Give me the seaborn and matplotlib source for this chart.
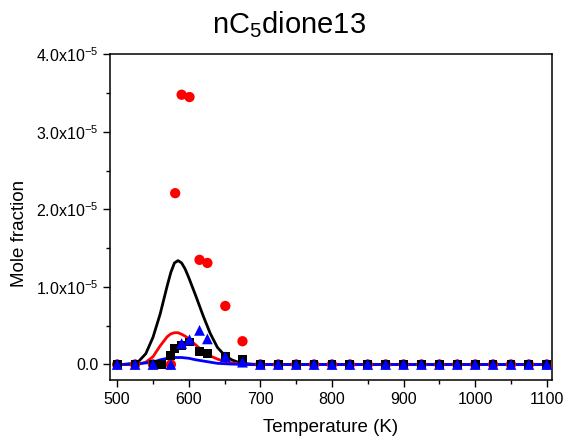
import numpy as np
import pandas as pd
import matplotlib
matplotlib.use("Agg")
import matplotlib.pyplot as plt
from matplotlib.ticker import MultipleLocator, FuncFormatter
import seaborn as sns

# experimental points (mole fraction, units of 1e-5)
temp_zero = [700, 725, 750, 775, 800, 825, 850, 875, 900, 925, 950, 975,
             1000, 1025, 1050, 1075, 1100]

red_T = [500, 525, 550, 575, 581, 590, 601, 615, 626, 651, 675] + temp_zero
red_y = [0, 0, 0, 0, 2.21, 3.48, 3.45, 1.35, 1.31, 0.755, 0.30] + [0] * len(temp_zero)

black_T = [500, 525, 550, 562, 575, 580, 590, 601, 615, 626, 651, 675] + temp_zero
black_y = [0, 0, 0, 0, 0.12, 0.21, 0.25, 0.29, 0.17, 0.14, 0.10, 0.07] + [0] * len(temp_zero)

blue_T = [500, 525, 550, 575, 590, 601, 615, 626, 651, 675] + temp_zero
blue_y = [0, 0, 0, 0, 0.27, 0.32, 0.44, 0.33, 0.10, 0.03] + [0] * len(temp_zero)

# model curves (units of 1e-5)
line_T = [500, 510, 520, 530, 540, 550, 560, 570, 575, 580, 585, 590, 595, 600,
          610, 620, 630, 640, 650, 660, 670, 680, 690, 700, 1100]
black_line = [0, 0.002, 0.01, 0.04, 0.14, 0.35, 0.65, 1.02, 1.19, 1.31, 1.34,
              1.31, 1.23, 1.12, 0.88, 0.63, 0.40, 0.22, 0.12, 0.06, 0.025,
              0.01, 0.003, 0, 0]
red_line = [0, 0, 0, 0.005, 0.03, 0.10, 0.24, 0.36, 0.395, 0.41, 0.41, 0.39,
            0.365, 0.33, 0.25, 0.17, 0.11, 0.07, 0.04, 0.02, 0.01, 0.003, 0, 0, 0]
blue_line = [0, 0.002, 0.005, 0.01, 0.02, 0.03, 0.06, 0.08, 0.085, 0.09, 0.09,
             0.09, 0.085, 0.08, 0.06, 0.045, 0.03, 0.015, 0.01, 0.005, 0.002,
             0, 0, 0, 0]

sns.set_style("ticks")
plt.rcParams['font.family'] = ['Liberation Sans', 'DejaVu Sans']
plt.rcParams['mathtext.fontset'] = 'custom'
plt.rcParams['mathtext.rm'] = 'Liberation Sans'
plt.rcParams['mathtext.it'] = 'Liberation Sans:italic'
plt.rcParams['text.color'] = 'black'
plt.rcParams['axes.labelcolor'] = 'black'

fig = plt.figure(figsize=(5.73, 4.46), dpi=100)
ax = fig.add_axes([0.192, 0.148, 0.771, 0.730])

lines = pd.DataFrame({'T': line_T, 'black': black_line, 'red': red_line, 'blue': blue_line})
for col in ['black', 'red', 'blue']:
    sns.lineplot(x=lines['T'], y=np.array(lines[col]) * 1e-5, ax=ax, color=col,
                 linewidth=2.0, zorder=2)

sns.scatterplot(x=red_T, y=np.array(red_y) * 1e-5, ax=ax, color='red', marker='o',
                s=55, edgecolor='none', zorder=3)
sns.scatterplot(x=black_T, y=np.array(black_y) * 1e-5, ax=ax, color='black', marker='s',
                s=40, edgecolor='none', zorder=4)
sns.scatterplot(x=blue_T, y=np.array(blue_y) * 1e-5, ax=ax, color='blue', marker='^',
                s=60, edgecolor='none', zorder=5)

ax.set_xlim(490, 1107)
ax.set_ylim(-0.2e-5, 4.0e-5)

ax.xaxis.set_major_locator(MultipleLocator(100))
ax.xaxis.set_minor_locator(MultipleLocator(50))
ax.yaxis.set_major_locator(MultipleLocator(1e-5))
ax.yaxis.set_minor_locator(MultipleLocator(0.5e-5))


def sci_fmt(v, pos):
    if abs(v) < 1e-12:
        return '0.0'
    return r'%.1fx10$^{\mathregular{-5}}$' % (v / 1e-5)


ax.yaxis.set_major_formatter(FuncFormatter(sci_fmt))
ax.tick_params(which='both', direction='out', top=False, right=False, colors='black')
ax.tick_params(which='major', length=5, width=1, labelsize=11.5)
ax.tick_params(which='minor', length=3, width=1)
for sp in ax.spines.values():
    sp.set_visible(True)
    sp.set_linewidth(1.1)
    sp.set_color('black')

ax.set_xlabel('Temperature (K)', fontsize=13.5, labelpad=9, color='black')
ax.set_ylabel('Mole fraction', fontsize=13.5, labelpad=2, color='black')
ax.yaxis.set_label_coords(-0.185, 0.45)
fig.text(0.505, 0.925, r'nC$_\mathregular{5}$dione13', fontsize=21, ha='center',
         va='baseline', color='black')

plt.savefig('out.png', dpi=100)
plt.close()
